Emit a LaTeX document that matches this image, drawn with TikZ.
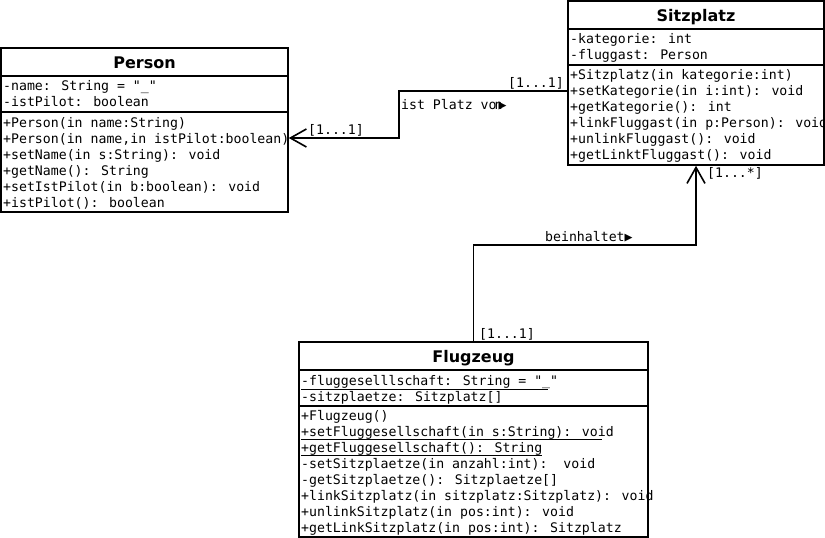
\documentclass[tikz,border=0pt]{standalone}
\usepackage{fontspec}
\usetikzlibrary{arrows.meta}
\newfontfamily\monofam{DejaVu Sans Mono}
\newfontfamily\titlefam[BoldFont={DejaVu Sans Bold}]{DejaVu Sans}
\newcommand\memfont{\monofam\fontsize{13.2}{16}\selectfont}
\newcommand\ttlfont{\titlefam\bfseries\fontsize{16}{19}\selectfont}
\tikzset{
  classbox/.style={draw, line width=1.6pt, inner sep=0pt, fill=white},
  divider/.style={line width=1.6pt},
  mem/.style={anchor=base west, inner sep=0pt, font=\memfont},
  lbl/.style={anchor=base west, inner sep=0pt, font=\memfont},
  ttl/.style={anchor=base, inner sep=0pt, font=\ttlfont},
  assoc/.style={line width=1.6pt, -{Straight Barb[length=16pt,width=18pt,line width=1.6pt]}},
  uline/.style={line width=0.9pt},
}
\begin{document}
\begin{tikzpicture}[x=1pt,y=-1pt]
\useasboundingbox (0,0) rectangle (825,538);

% ---------- Person ----------
\node[classbox, minimum width=287pt, minimum height=164pt] (person) at (144.5,130) {};
\draw[divider] (person.west |- 0,76) -- (person.east |- 0,76);
\draw[divider] (person.west |- 0,112) -- (person.east |- 0,112);
\node[ttl] (personT) at (144.5,68) {Person};
\node[mem] (pa1) at (3,90) {-name: String = "\_"};
\node[mem] (pa2) at (3,106) {-istPilot: boolean};
\node[mem] (pm1) at (3,127) {+Person(in name:String)};
\node[mem] (pm2) at (3,143) {+Person(in name,in istPilot:boolean)};
\node[mem] (pm3) at (3,159) {+setName(in s:String): void};
\node[mem] (pm4) at (3,175) {+getName(): String};
\node[mem] (pm5) at (3,191) {+setIstPilot(in b:boolean): void};
\node[mem] (pm6) at (3,207) {+istPilot(): boolean};

% ---------- Sitzplatz ----------
\node[classbox, minimum width=256pt, minimum height=164pt] (sitz) at (696,83) {};
\draw[divider] (sitz.west |- 0,29) -- (sitz.east |- 0,29);
\draw[divider] (sitz.west |- 0,65) -- (sitz.east |- 0,65);
\node[ttl] (sitzT) at (696,21) {Sitzplatz};
\node[mem] (sa1) at (570,43) {-kategorie: int};
\node[mem] (sa2) at (570,59) {-fluggast: Person};
\node[mem] (sm1) at (570,79) {+Sitzplatz(in kategorie:int)};
\node[mem] (sm2) at (570,95) {+setKategorie(in i:int): void};
\node[mem] (sm3) at (570,111) {+getKategorie(): int};
\node[mem] (sm4) at (570,127) {+linkFluggast(in p:Person): void};
\node[mem] (sm5) at (570,143) {+unlinkFluggast(): void};
\node[mem] (sm6) at (570,159) {+getLinktFluggast(): void};

% ---------- Flugzeug ----------
\node[classbox, minimum width=349pt, minimum height=195pt] (flug) at (473.5,439.5) {};
\draw[divider] (flug.west |- 0,370) -- (flug.east |- 0,370);
\draw[divider] (flug.west |- 0,406) -- (flug.east |- 0,406);
\node[ttl] (flugT) at (473.5,362) {Flugzeug};
\node[mem] (fa1) at (301,385) {-fluggeselllschaft: String = "\_"};
\node[mem] (fa2) at (301,401) {-sitzplaetze: Sitzplatz[]};
\node[mem] (fm1) at (301,420) {+Flugzeug()};
\node[mem] (fm2) at (301,436) {+setFluggesellschaft(in s:String): void};
\node[mem] (fm3) at (301,452) {+getFluggesellschaft(): String};
\node[mem] (fm4) at (301,468) {-setSitzplaetze(in anzahl:int):\ \ void};
\node[mem] (fm5) at (301,484) {-getSitzplaetze(): Sitzplaetze[]};
\node[mem] (fm6) at (301,500) {+linkSitzplatz(in sitzplatz:Sitzplatz): void};
\node[mem] (fm7) at (301,516) {+unlinkSitzplatz(in pos:int): void};
\node[mem] (fm8) at (301,532) {+getLinkSitzplatz(in pos:int): Sitzplatz};
\draw[uline] ([yshift=-4pt]fa1.base west) -- ++(247,0);
\draw[uline] ([yshift=-3pt]fm2.base west) -- ++(301,0);
\draw[uline] ([yshift=-3pt]fm3.base west) -- ++(241,0);

% ---------- Associations ----------
\coordinate (b1) at (399,91);
\coordinate (b2) at (399,138);
\draw[assoc] (sitz.west |- b1) -- (b1) -- (b2) -- (person.east |- b2);
\node[lbl] (l1) at (508,87) {[1...1]};
\node[lbl] (l2) at (401,109) {ist Platz vo\kern-2pt n\kern-4pt ▶};
\node[lbl] (l3) at (308,134) {[1...1]};

\coordinate (c1) at (600,245);
\draw[assoc] (flug.north) |- (c1) -| (sitz.south);
\node[lbl] (l4) at (545,241) {beinhaltet▶};
\node[lbl] (l5) at (707,177) {[1...*]};
\node[lbl] (l6) at (479,338) {[1...1]};
\end{tikzpicture}
\end{document}
